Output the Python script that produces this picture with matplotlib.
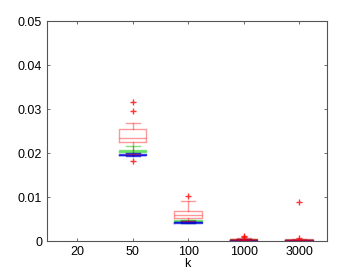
import matplotlib
matplotlib.use("Agg")
import matplotlib.pyplot as plt

k_labels = ["20", "50", "100", "1000", "3000"]
positions = [2, 3, 4, 5]  # k=20 has no boxes

# red series: whislo, q1, med, q3, whishi
red_whislo = [0.0198, 0.0045, 0.0002, 0.0001]
red_q1 = [0.0224, 0.0052, 0.0003, 0.0002]
red_med = [0.0235, 0.0059, 0.0004, 0.0003]
red_q3 = [0.0254, 0.0069, 0.0005, 0.0004]
red_whishi = [0.0269, 0.0090, 0.0007, 0.0005]
red_fliers = [[0.0315, 0.0295, 0.0182], [0.0102], [0.0012, 0.0009], [0.0088, 0.0008]]

green_whislo = [0.0199, 0.0042, 0.0002, 0.0001]
green_q1 = [0.0202, 0.0044, 0.0003, 0.0002]
green_med = [0.0204, 0.0045, 0.0003, 0.0002]
green_q3 = [0.0207, 0.0047, 0.0004, 0.0003]
green_whishi = [0.0215, 0.0048, 0.0004, 0.0003]

blue_whislo = [0.0193, 0.0041, 0.0002, 0.0001]
blue_q1 = [0.0195, 0.0042, 0.0002, 0.0001]
blue_med = [0.0196, 0.0043, 0.0003, 0.0002]
blue_q3 = [0.0198, 0.0044, 0.0003, 0.0002]
blue_whishi = [0.0199, 0.0045, 0.0004, 0.0003]

plt.rcParams['font.family'] = ['Liberation Sans', 'DejaVu Sans']

fig = plt.figure(figsize=(3.62, 2.73), dpi=100)
ax = fig.add_axes([0.130, 0.117, 0.773, 0.806])


def make_stats(lo, q1, med, q3, hi, fl=None):
    out = []
    for i in range(len(lo)):
        out.append(dict(whislo=lo[i], q1=q1[i], med=med[i], q3=q3[i], whishi=hi[i],
                        fliers=(fl[i] if fl else [])))
    return out


def draw(stats, color, alpha, z):
    lp = dict(color=color, alpha=alpha, linewidth=1.0)
    ax.bxp(stats, positions=positions, widths=0.5,
           boxprops=lp, medianprops=lp, whiskerprops=lp, capprops=lp,
           flierprops=dict(marker='+', markeredgecolor=color, markersize=5, alpha=0.8),
           showfliers=True, manage_ticks=False, zorder=z)


draw(make_stats(green_whislo, green_q1, green_med, green_q3, green_whishi), '#00cc00', 0.5, 2)
draw(make_stats(blue_whislo, blue_q1, blue_med, blue_q3, blue_whishi), '#0000dd', 0.7, 3)
draw(make_stats(red_whislo, red_q1, red_med, red_q3, red_whishi, red_fliers), '#ff0000', 0.4, 4)

ax.set_xlim(0.46, 5.5)
ax.set_ylim(0, 0.05)
ax.set_xticks(range(1, 6))
ax.set_xticklabels(k_labels)
ax.set_yticks([0, 0.01, 0.02, 0.03, 0.04, 0.05])
ax.set_yticklabels(["0", "0.01", "0.02", "0.03", "0.04", "0.05"])
ax.set_xlabel("k", fontsize=9, labelpad=0)
ax.tick_params(direction='in', length=2.5, labelsize=9, top=True, right=True,
               color='#555555', width=0.6)
for s in ax.spines.values():
    s.set_color('#555555')
    s.set_linewidth(0.8)

fig.savefig("out.png", dpi=100)
